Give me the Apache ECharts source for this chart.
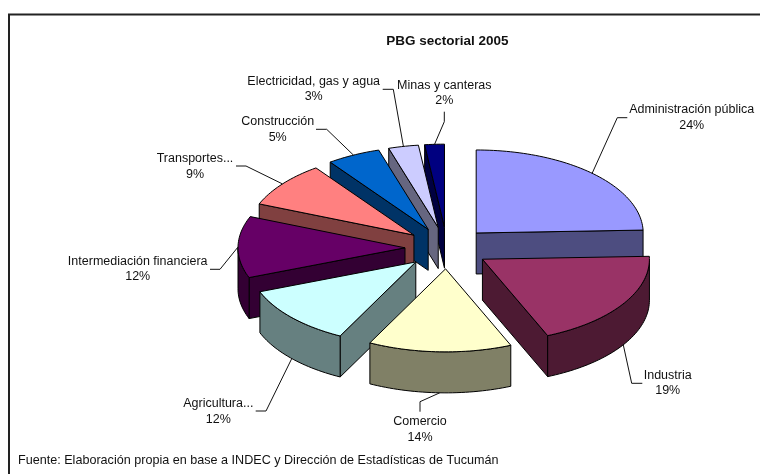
<!DOCTYPE html>
<html>
<head>
<meta charset="utf-8">
<style>html,body{margin:0;padding:0;background:#fff}#c{width:760px;height:474px}</style>
<script src="https://cdn.jsdelivr.net/npm/echarts@6/dist/echarts.min.js"></script>
</head>
<body>
<div id="c"></div>
<script>
// ---- data ----
var categories = ['Administración pública','Industria','Comercio','Agricultura...','Intermediación financiera','Transportes...','Construcción','Electricidad, gas y agua','Minas y canteras'];
var shares = [24.49,19.21,13.9,11.7,12.0,8.9,5.2,2.9,1.9];
// ---- styles ----
var topColors = ['#9999FF','#993366','#FFFFCC','#CCFFFF','#660066','#FF8080','#0066CC','#CCCCFF','#000080'];
var sideColors = ['#4D4D80','#4D1A33','#808066','#668080','#330033','#804040','#003366','#666680','#000040'];
// ---- layout ----
var cx = 447, cy = 248, rx = 167, ry = 83, depth = 41, explode = 42;
var labelAnchors = [[691.7,117.6],[667.7,383],[420,429.7],[218.3,411.8],[137.7,269.2],[195,166.4],[277.7,129.5],[313.7,89.2],[444.3,93.2]];
var leaderElbows = [
  [[617.3,117.7],[627.3,117.7]],
  [[631.7,383.3],[642.3,383.3]],
  [[420,401.7],[420,411.7]],
  [[266,411],[255.7,411]],
  [[220,269.3],[210,269.3]],
  [[246,166],[236,166]],
  [[326.7,129.3],[316,129.3]],
  [[393.3,89.3],[382.7,89.3]],
  [[444.3,121.7],[444.3,111.7]]
];
var total = shares.reduce(function(a,b){return a+b;},0);
var rad = Math.PI/180;
var slices = [];
(function(){
  var a = 0;
  shares.forEach(function(v,i){
    var sweep = v/total*360, s = a, e = a+sweep, m = a+sweep/2;
    slices.push({i:i,s:s,e:e,m:m,
      ax:cx+explode*Math.sin(m*rad), ay:cy-explode*ry/rx*Math.cos(m*rad)});
    a = e;
  });
})();
function pt(sl,t,dz){return [sl.ax+rx*Math.sin(t*rad), sl.ay-ry*Math.cos(t*rad)+(dz||0)];}
function arc(sl,a,b,dz){var n=Math.max(2,Math.ceil((b-a)/1.5)),p=[];for(var k=0;k<=n;k++)p.push(pt(sl,a+(b-a)*k/n,dz));return p;}
function poly(points,fill){return {type:'polygon',shape:{points:points},style:{fill:fill,stroke:'#000',lineWidth:1,lineJoin:'round'}};}
function radialFace(sl,t,fill){var o=pt(sl,t);return poly([[sl.ax,sl.ay],o,[o[0],o[1]+depth],[sl.ax,sl.ay+depth]],fill);}
var backToFront = slices.slice().sort(function(a,b){return Math.cos(b.m*rad)-Math.cos(a.m*rad);});
function renderSlice(params){
  var sl = backToFront[params.dataIndex], ch = [], side = sideColors[sl.i];
  if (sl.s>180 && sl.s<360) ch.push(radialFace(sl,sl.s,side));
  if (sl.e>0 && sl.e<180) ch.push(radialFace(sl,sl.e,side));
  var a = Math.max(sl.s,90), b = Math.min(sl.e,270);
  if (b>a) ch.push(poly(arc(sl,a,b,0).concat(arc(sl,a,b,depth).reverse()),side));
  ch.push(poly([[sl.ax,sl.ay]].concat(arc(sl,sl.s,sl.e,0)),topColors[sl.i]));
  return {type:'group',children:ch};
}
var textFont = 'Liberation Sans, Arial, sans-serif';
function renderLabel(params){
  var sl = slices[params.dataIndex], i = sl.i;
  var c = Math.cos(sl.m*rad);
  var start = pt(sl,sl.m,c<0?depth:0);
  return {type:'group',children:[
    {type:'polyline',shape:{points:[start].concat(leaderElbows[i])},style:{fill:null,stroke:'#111',lineWidth:1}},
    {type:'text',x:labelAnchors[i][0],y:labelAnchors[i][1],style:{
      text:categories[i]+'\n'+Math.round(shares[i])+'%',
      fill:'#111',font:'12.5px '+textFont,align:'center',verticalAlign:'middle',lineHeight:15.6}}
  ]};
}
var chart = echarts.init(document.getElementById('c'),null,{renderer:'canvas'});
chart.setOption({
  animation:false,
  backgroundColor:'#fff',
  title:[
    {text:'PBG sectorial 2005',left:442.3,top:36,textAlign:'center',textVerticalAlign:'middle',
     textStyle:{fontFamily:textFont,fontWeight:'bold',fontSize:13.5,color:'#111'}},
    {text:'Fuente: Elaboración propia en base a INDEC y Dirección de Estadísticas de Tucumán',left:13,top:456,textVerticalAlign:'middle',
     textStyle:{fontFamily:textFont,fontWeight:'normal',fontSize:12.6,color:'#111'}}
  ],
  graphic:[
    {type:'polyline',silent:true,shape:{points:[[9,474],[9,14.5],[760,14.5]]},style:{fill:null,stroke:'#222',lineWidth:2}}
  ],
  series:[
    {type:'custom',coordinateSystem:'none',silent:true,z:2,renderItem:renderSlice,
     data:backToFront.map(function(sl){return {name:categories[sl.i],value:shares[sl.i]};})},
    {type:'custom',coordinateSystem:'none',silent:true,z:3,renderItem:renderLabel,
     data:categories.map(function(n,i){return {name:n,value:shares[i]};})}
  ]
});
</script>
</body>
</html>
